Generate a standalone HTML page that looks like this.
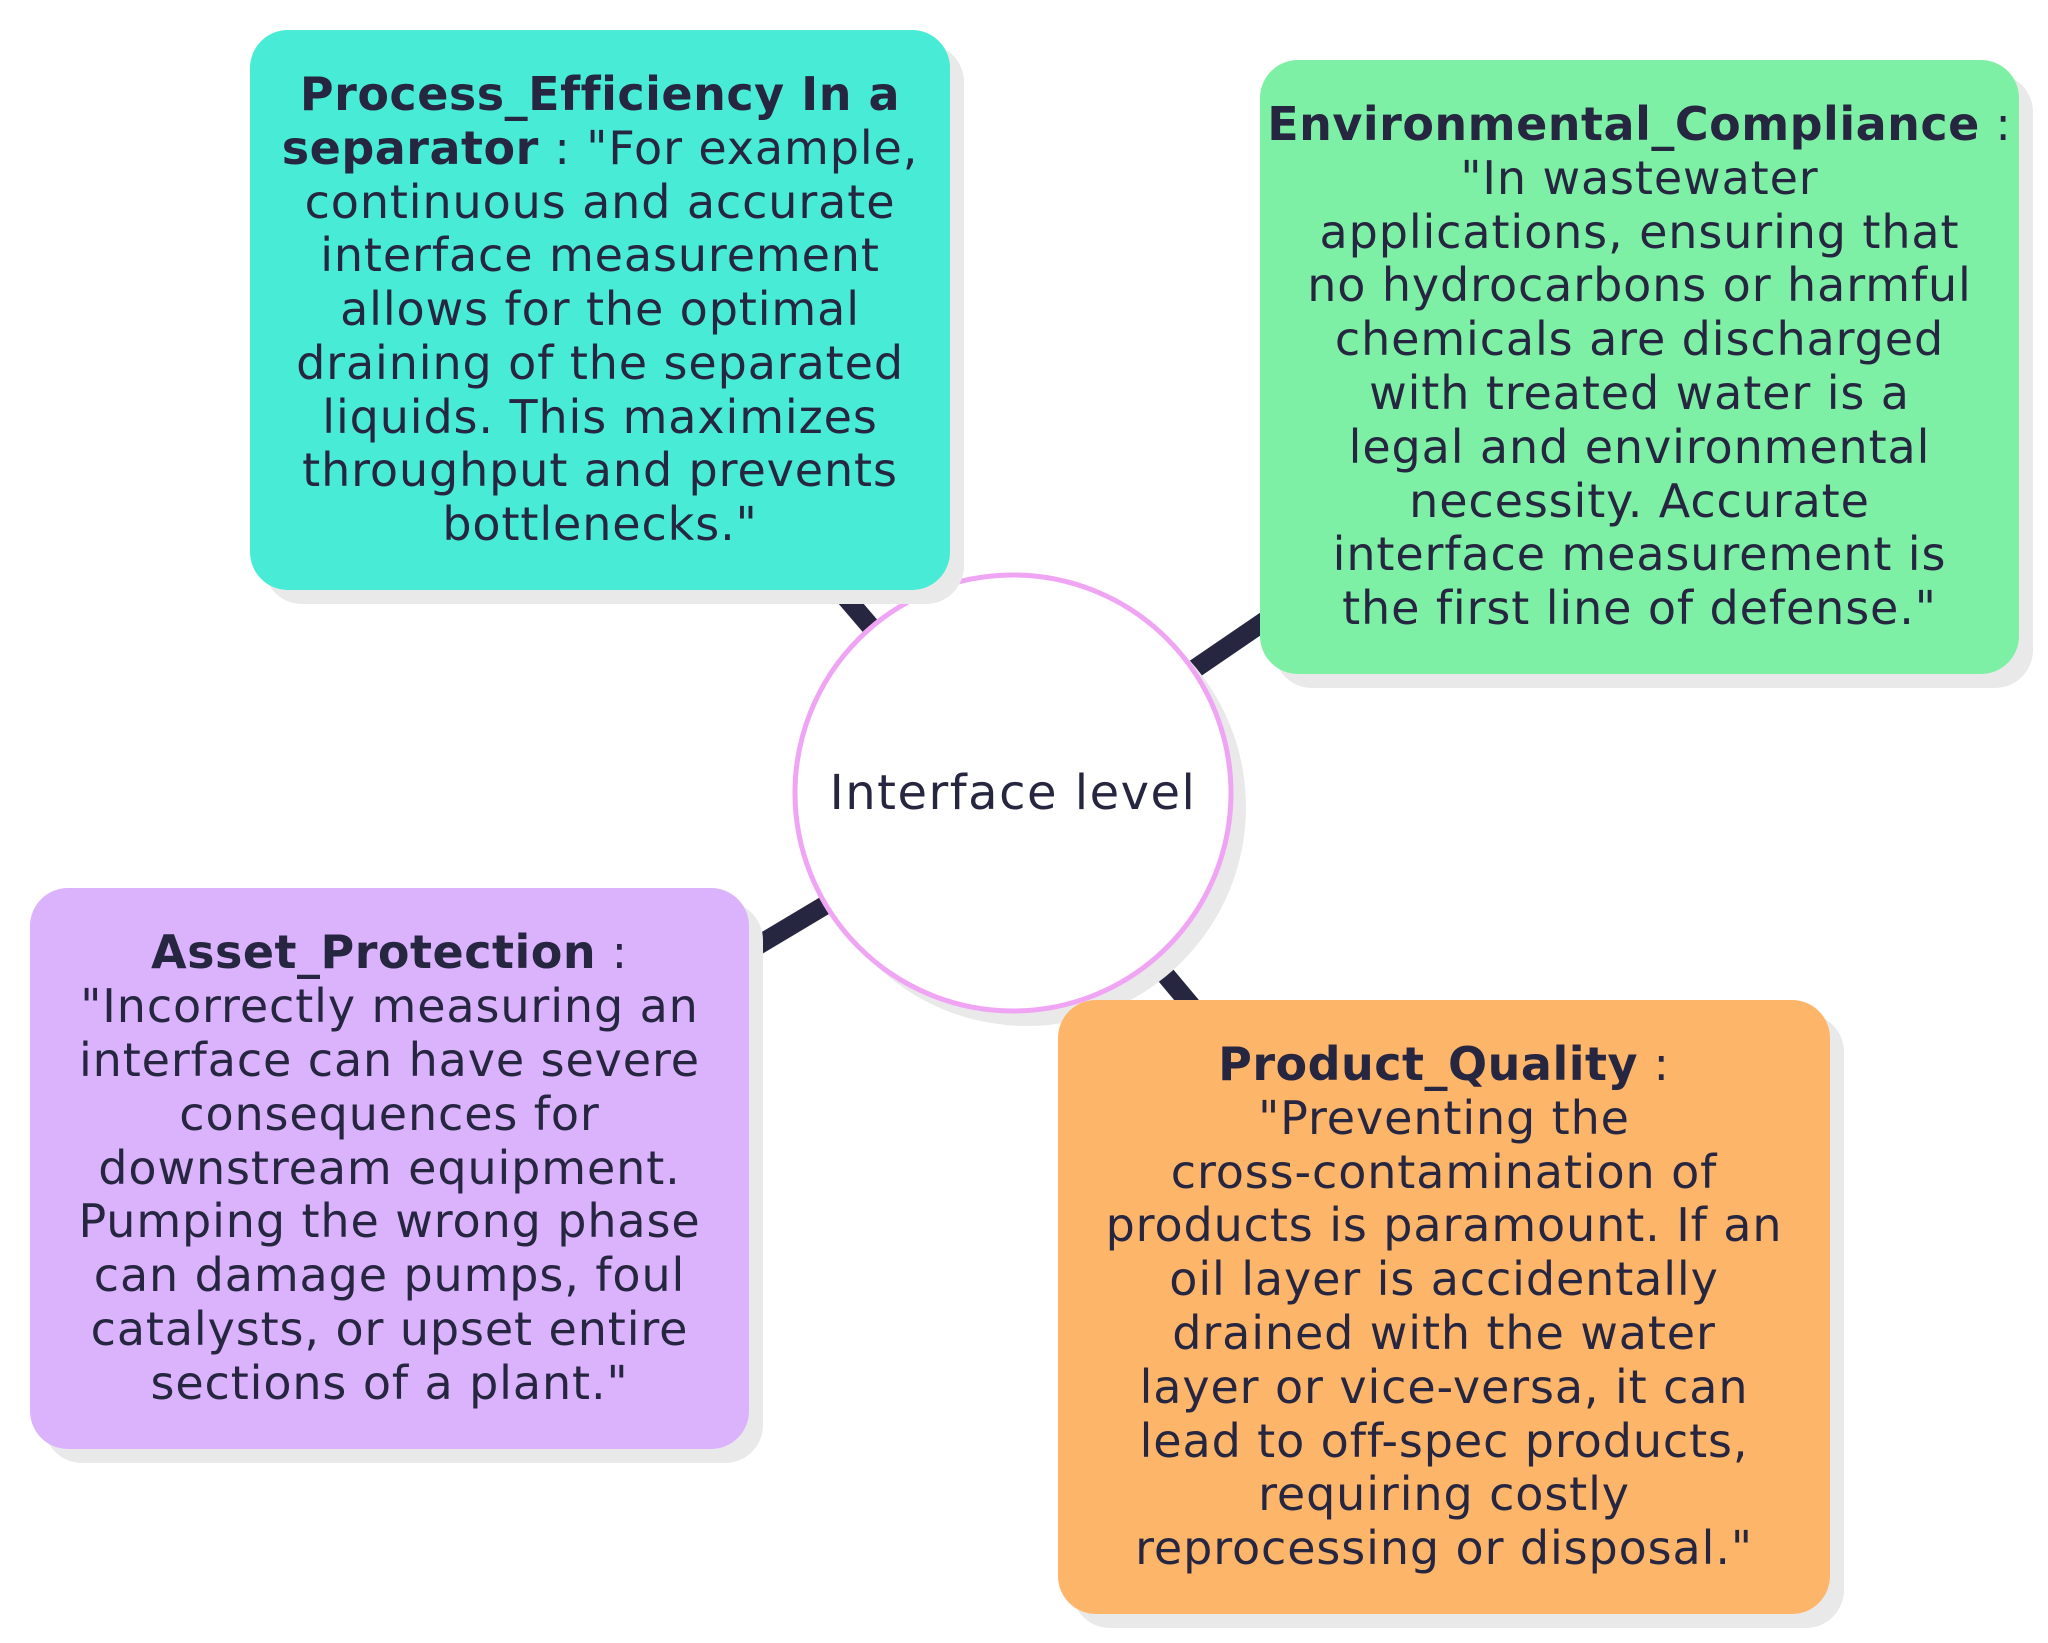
<!DOCTYPE html>
<html><head><meta charset="utf-8"><style>
html,body{margin:0;padding:0;background:#fff;}
body{width:2048px;height:1643px;position:relative;overflow:hidden;font-family:"DejaVu Sans","Liberation Sans",sans-serif;color:#262640;}
.b{position:absolute;border-radius:38px;display:flex;align-items:center;justify-content:center;text-align:center;font-size:46px;letter-spacing:0.9px;line-height:53.8px;box-shadow:14px 14px 0 #e9e9e9;white-space:nowrap;}
b{font-weight:bold;letter-spacing:0.5px;}
svg{position:absolute;left:0;top:0;}
</style></head><body>
<svg width="2048" height="1643">
<g stroke="#262640" stroke-width="19">
<line x1="1013" y1="793" x2="598" y2="308"/>
<line x1="1013" y1="793" x2="1638" y2="366"/>
<line x1="1013" y1="793" x2="387" y2="1167"/>
<line x1="1013" y1="793" x2="1443" y2="1306"/>
</g>
<circle cx="1027" cy="807" r="219" fill="#e9e9e9"/>
<circle cx="1013" cy="793" r="218" fill="#fff" stroke="#f0a4f4" stroke-width="5"/>
<text x="1013" y="809" text-anchor="middle" font-size="48" letter-spacing="1.5" font-family="DejaVu Sans, sans-serif" fill="#262640">Interface level</text>
</svg>
<div class="b" style="left:250px;top:30px;width:700px;height:560px;background:#48ebd6;"><div><b>Process_Efficiency In a<br>separator</b> : "For example,<br>continuous and accurate<br>interface measurement<br>allows for the optimal<br>draining of the separated<br>liquids. This maximizes<br>throughput and prevents<br>bottlenecks."</div></div>
<div class="b" style="left:1260px;top:60px;width:759px;height:614px;background:#7ef0a6;"><div><b>Environmental_Compliance</b> :<br>"In wastewater<br>applications, ensuring that<br>no hydrocarbons or harmful<br>chemicals are discharged<br>with treated water is a<br>legal and environmental<br>necessity. Accurate<br>interface measurement is<br>the first line of defense."</div></div>
<div class="b" style="left:30px;top:888px;width:719px;height:561px;background:#dab3fc;"><div><b>Asset_Protection</b> :<br>"Incorrectly measuring an<br>interface can have severe<br>consequences for<br>downstream equipment.<br>Pumping the wrong phase<br>can damage pumps, foul<br>catalysts, or upset entire<br>sections of a plant."</div></div>
<div class="b" style="left:1058px;top:1000px;width:772px;height:614px;background:#fdb56a;"><div><b>Product_Quality</b> :<br>"Preventing the<br>cross-contamination of<br>products is paramount. If an<br>oil layer is accidentally<br>drained with the water<br>layer or vice-versa, it can<br>lead to off-spec products,<br>requiring costly<br>reprocessing or disposal."</div></div>
</body></html>
